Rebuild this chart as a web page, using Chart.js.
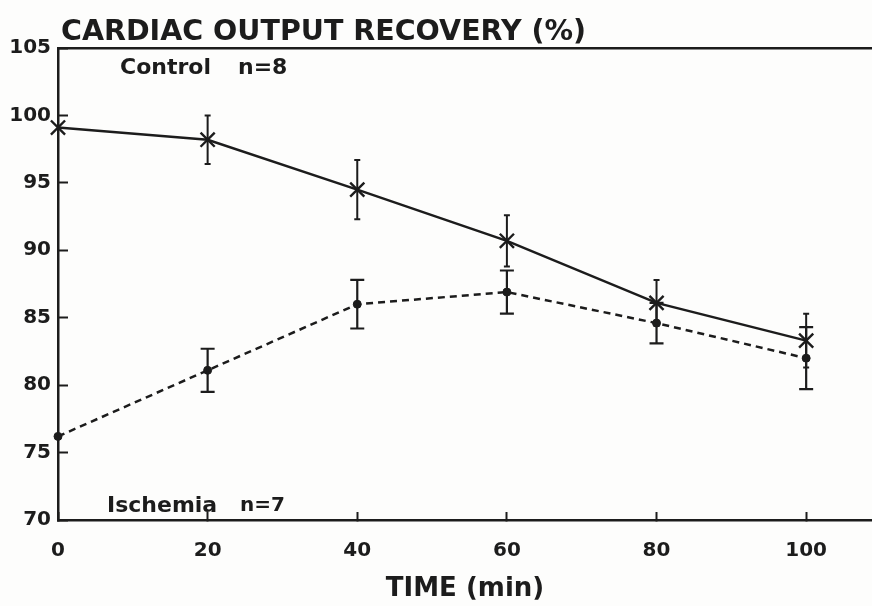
<!DOCTYPE html>
<html>
<head>
<meta charset="utf-8">
<script src="https://cdn.jsdelivr.net/npm/chart.js@4.4.1/dist/chart.umd.min.js"></script>
<style>
  html, body { margin: 0; padding: 0; background: #fdfdfc; overflow: hidden; }
  #wrap { width: 872px; height: 606px; }
</style>
</head>
<body>
<div id="wrap"><canvas id="c" width="872" height="606"></canvas></div>
<script>
// ---- Data ----
const timeMin = [0, 20, 40, 60, 80, 100];
const controlValues = [99.1, 98.2, 94.5, 90.7, 86.1, 83.3];
const controlErrors = [0, 1.8, 2.2, 1.9, 1.7, 2.0];
const ischemiaValues = [76.2, 81.1, 86.0, 86.9, 84.6, 82.0];
const ischemiaErrors = [0, 1.6, 1.8, 1.6, 1.5, 2.3];
const xTickValues = [0, 20, 40, 60, 80, 100];
const yTickValues = [70, 75, 80, 85, 90, 95, 100, 105];

const chartTitle = 'CARDIAC OUTPUT RECOVERY (%)';
const xAxisTitle = 'TIME (min)';
const controlLabel = ['Control', 'n=8'];
const ischemiaLabel = ['Ischemia', 'n=7'];

const INK = '#1c1c1c';
const FONT = "'DejaVu Sans', 'Liberation Sans', Arial, sans-serif";

const toPoints = (vals) => timeMin.map((t, i) => ({ x: t, y: vals[i] }));

// Error bars drawn through the chart's own scales
const errorBarPlugin = {
  id: 'errorBars',
  afterDatasetsDraw(chart) {
    const ctx = chart.ctx;
    const xs = chart.scales.x, ys = chart.scales.y;
    const sets = [
      { vals: controlValues, errs: controlErrors, cap: 3, width: 2 },
      { vals: ischemiaValues, errs: ischemiaErrors, cap: 7, width: 2.2 }
    ];
    ctx.save();
    ctx.strokeStyle = INK;
    sets.forEach(s => {
      ctx.lineWidth = s.width;
      timeMin.forEach((t, i) => {
        if (!s.errs[i]) return;
        const px = xs.getPixelForValue(t);
        const top = ys.getPixelForValue(s.vals[i] + s.errs[i]);
        const bot = ys.getPixelForValue(s.vals[i] - s.errs[i]);
        ctx.beginPath();
        ctx.moveTo(px, top); ctx.lineTo(px, bot);
        ctx.moveTo(px - s.cap, top); ctx.lineTo(px + s.cap, top);
        ctx.moveTo(px - s.cap, bot); ctx.lineTo(px + s.cap, bot);
        ctx.stroke();
      });
    });
    ctx.restore();
  }
};

// Title and in-plot labels
const textPlugin = {
  id: 'texts',
  afterDraw(chart) {
    const ctx = chart.ctx;
    const a = chart.chartArea;
    ctx.save();
    ctx.fillStyle = INK;
    ctx.textBaseline = 'middle';
    ctx.textAlign = 'left';
    ctx.font = "bold 28.5px " + FONT;
    ctx.fillText(chartTitle, a.left + 3, 33);
    ctx.font = "bold 22px " + FONT;
    ctx.fillText(controlLabel[0], a.left + 62, 68);
    ctx.fillText(controlLabel[1], a.left + 180, 68);
    ctx.fillText(ischemiaLabel[0], a.left + 49, 506);
    ctx.font = "bold 20px " + FONT;
    ctx.fillText(ischemiaLabel[1], a.left + 182, 506);
    ctx.restore();
  }
};

new Chart(document.getElementById('c'), {
  type: 'line',
  data: {
    datasets: [
      {
        label: 'Control',
        data: toPoints(controlValues),
        borderColor: INK,
        backgroundColor: INK,
        borderWidth: 2.5,
        pointStyle: 'crossRot',
        pointRadius: 10,
        pointBorderWidth: 2.4,
        pointBorderColor: INK,
        tension: 0,
        clip: false
      },
      {
        label: 'Ischemia',
        data: toPoints(ischemiaValues),
        borderColor: INK,
        backgroundColor: INK,
        borderWidth: 2.5,
        borderDash: [7, 5],
        pointStyle: 'circle',
        pointRadius: 4,
        pointBorderWidth: 1,
        pointBackgroundColor: INK,
        pointBorderColor: INK,
        tension: 0,
        clip: false
      }
    ]
  },
  options: {
    responsive: false,
    animation: false,
    events: [],
    layout: { autoPadding: false, padding: { top: 48, right: 0, left: 0, bottom: 0 } },
    plugins: {
      legend: { display: false },
      tooltip: { enabled: false },
      title: { display: false }
    },
    scales: {
      x: {
        type: 'linear',
        position: 'bottom',
        min: 0,
        max: 108.8,
        afterBuildTicks: (s) => { s.ticks = xTickValues.map(v => ({ value: v })); },
        afterFit: (s) => { s.height = 86; },
        ticks: {
          color: INK,
          font: { family: FONT, size: 20, weight: 'bold' },
          padding: 27,
          maxRotation: 0,
          autoSkip: false
        },
        grid: {
          display: true,
          drawOnChartArea: false,
          drawTicks: true,
          tickLength: -8,
          tickWidth: 2,
          tickColor: INK
        },
        border: { display: true, color: INK, width: 2.5 },
        title: {
          display: true,
          text: xAxisTitle,
          color: INK,
          font: { family: FONT, size: 26, weight: 'bold' },
          padding: { top: 0, bottom: 1 }
        }
      },
      xTop: {
        type: 'linear',
        position: 'top',
        min: 0,
        max: 108.8,
        afterFit: (s) => { s.height = 0; },
        ticks: { display: false },
        grid: { display: false },
        border: { display: true, color: INK, width: 2.5 }
      },
      y: {
        type: 'linear',
        position: 'left',
        min: 70,
        max: 105,
        afterBuildTicks: (s) => { s.ticks = yTickValues.map(v => ({ value: v })); },
        afterFit: (s) => { s.width = 58; },
        ticks: {
          color: INK,
          font: { family: FONT, size: 20, weight: 'bold' },
          padding: 17,
          autoSkip: false
        },
        grid: {
          display: true,
          drawOnChartArea: false,
          drawTicks: true,
          tickLength: -10,
          tickWidth: 2,
          tickColor: INK
        },
        border: { display: true, color: INK, width: 2.5 }
      }
    }
  },
  plugins: [errorBarPlugin, textPlugin]
});
</script>
</body>
</html>
